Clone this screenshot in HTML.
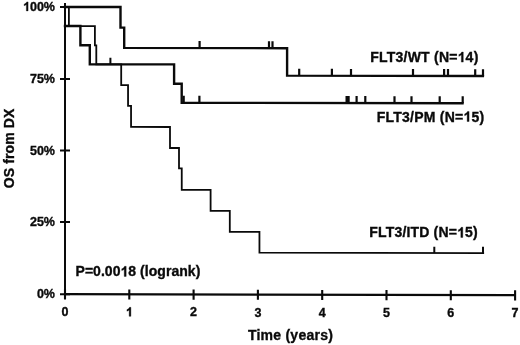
<!DOCTYPE html>
<html>
<head>
<meta charset="utf-8">
<style>
html,body{margin:0;padding:0;background:#fff;}
body{width:520px;height:345px;overflow:hidden;}
svg{display:block;will-change:transform;}
.h{fill-opacity:0;stroke-opacity:0;}
text{font-family:"Liberation Sans",sans-serif;font-weight:bold;fill:#0a0a0a;stroke:#0a0a0a;stroke-width:0.35px;}
</style>
</head>
<body>
<svg width="520" height="345" viewBox="0 0 520 345">
<rect width="520" height="345" fill="#fff"/>
<defs><path id="one" d="M829 0H548V1059Q394 915 185 846V1101Q295 1137 424 1237Q553 1338 601 1472H829Z"/></defs>
<g stroke="#0a0a0a" fill="none" stroke-width="2.2">
  <path d="M65,3 V294.72" stroke-width="2"/>
  <path d="M64,294.22 L516,295.22"/>
  <path d="M60,7 H70 M60,79 H70 M60,150.5 H70 M60,222 H70 M60,294.22 H70" stroke-width="2.1"/>
  <path d="M65.00,289.32 V299.42 M129.30,289.46 V299.56 M193.60,289.61 V299.71 M257.90,289.75 V299.85 M322.20,289.89 V299.99 M386.50,290.03 V300.13 M450.80,290.17 V300.27 M515.10,290.31 V300.41" stroke-width="2.1"/>
</g>
<g stroke="#0a0a0a" fill="none" stroke-linejoin="miter" stroke-linecap="square">
  <path stroke-width="2.4" d="M65.00,6.95 L120.50,7.07 L120.50,27.60 L124.20,27.60 L124.20,47.83 L287.10,48.19 L287.10,75.64 L482.90,76.07"/>
  <path stroke-width="2.4" d="M65.00,25.98 L80.40,26.02 L80.40,45.29 L89.80,45.31 L89.80,64.22 L174.10,64.41 L174.10,83.69 L181.70,83.71 L181.70,102.68 L462.50,103.30"/>
  <path stroke-width="1.8" d="M65.00,7.00 L68.90,7.01 L68.90,25.98 L94.90,26.03 L94.90,45.30 L96.30,45.30 L96.30,64.24 L121.20,64.29 L121.20,85.04 L128.05,85.06 L128.05,105.85 L131.05,105.85 L131.05,126.91 L170.00,126.99 L170.00,147.99 L179.00,148.01 L179.00,168.40 L181.75,168.40 L181.75,189.77 L210.60,189.83 L210.60,210.88 L229.80,210.92 L229.80,231.82 L259.45,231.88 L259.45,252.55 L483.20,253.04"/>
</g>
<g stroke="#0a0a0a" fill="none" stroke-width="2.2">
  <path d="M199.60,48.00 V41.10 M269.00,48.15 V41.25 M272.50,48.16 V41.26 M299.20,75.67 V68.77 M331.90,75.74 V68.84 M351.00,75.78 V68.88 M413.00,75.92 V69.02 M444.10,75.98 V69.08 M448.00,75.99 V69.09 M475.20,76.05 V69.15 M483.00,76.07 V69.17"/>
  <path d="M183.70,102.69 V95.69 M199.40,102.72 V95.72 M346.60,103.04 V96.04 M348.60,103.05 V96.05 M356.60,103.07 V96.07 M365.30,103.09 V96.09 M394.50,103.15 V96.15 M411.50,103.19 V96.19 M439.70,103.25 V96.25 M462.70,103.30 V96.30"/>
  <path stroke-width="2.0" d="M110.40,64.27 V57.87 M434.30,252.94 V246.64 M483.00,253.04 V246.74"/>
</g>
<g font-size="12.5" text-anchor="end">
  <text x="55" y="10.9"><tspan class="h">1</tspan>00%</text>
  <text x="55" y="82.9">75%</text>
  <text x="55" y="154.6">50%</text>
  <text x="55" y="226.4">25%</text>
  <text x="55" y="298.4">0%</text>
</g>
<g font-size="12.5" text-anchor="middle">
  <text x="65.00" y="316.20">0</text>
  <text x="129.30" y="316.34"><tspan class="h">1</tspan></text>
  <text x="193.60" y="316.48">2</text>
  <text x="257.90" y="316.62">3</text>
  <text x="322.20" y="316.77">4</text>
  <text x="386.50" y="316.91">5</text>
  <text x="450.80" y="317.05">6</text>
  <text x="515.10" y="317.19">7</text>
</g>
<g font-size="14">
  <text x="247.9" y="339.7" textLength="85" lengthAdjust="spacing">Time (years)</text>
  <text transform="translate(14,148.45) rotate(-90)" text-anchor="middle" textLength="79.6" lengthAdjust="spacing">OS from DX</text>
  <text x="370.3" y="62.1" textLength="108" lengthAdjust="spacing">FLT3/WT (N=<tspan class="h">1</tspan>4)</text>
  <text x="376.8" y="121.5" textLength="107.3" lengthAdjust="spacing">FLT3/PM (N=<tspan class="h">1</tspan>5)</text>
  <text x="369.3" y="237.4" textLength="108.4" lengthAdjust="spacing">FLT3/ITD (N=<tspan class="h">1</tspan>5)</text>
  <text x="75.5" y="276.4" textLength="124.8" lengthAdjust="spacing">P=0.00<tspan class="h">1</tspan>8 (logrank)</text>
</g>
<g fill="#0a0a0a" stroke="#0a0a0a">
<use href="#one" transform="translate(23.02,10.90) scale(0.006104,-0.006104)" stroke-width="57.3"/>
<use href="#one" transform="translate(125.82,316.34) scale(0.006104,-0.006104)" stroke-width="57.3"/>
<use href="#one" transform="translate(457.61,62.10) scale(0.006836,-0.006836)" stroke-width="51.2"/>
<use href="#one" transform="translate(463.40,121.50) scale(0.006836,-0.006836)" stroke-width="51.2"/>
<use href="#one" transform="translate(457.10,237.40) scale(0.006836,-0.006836)" stroke-width="51.2"/>
<use href="#one" transform="translate(120.50,276.40) scale(0.006836,-0.006836)" stroke-width="51.2"/>
</g>
</svg>
</body>
</html>
